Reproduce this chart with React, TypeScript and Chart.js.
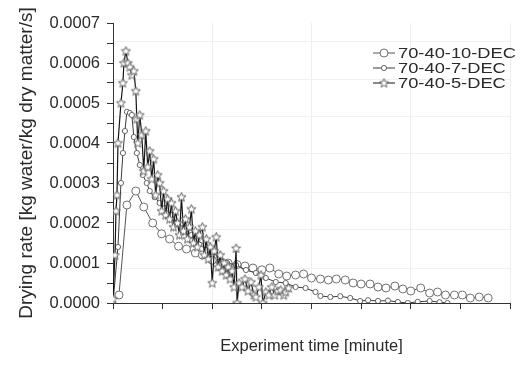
import React, { useEffect, useRef } from 'react';
import { Chart, registerables } from 'chart.js';

Chart.register(...registerables);

const SERIES_NAMES = ['70-40-10-DEC', '70-40-7-DEC', '70-40-5-DEC'];

const X_10 = [6, 14, 23, 31, 40, 49, 57, 66, 74, 83, 90, 100, 108, 116, 125, 133, 141, 150, 158, 167, 175, 184, 192, 200, 209, 217, 225, 234, 242, 250, 259, 267, 275, 284, 292, 300, 310, 319, 327, 335, 344, 352, 360, 369, 378];
const Y_10 = [0.00002, 0.000245, 0.00028, 0.00024, 0.0002, 0.000173, 0.00016, 0.000142, 0.000135, 0.000125, 0.00012, 0.000107, 0.000103, 0.0001, 0.000096, 0.0000925, 0.0000875, 0.000083, 0.0000875, 0.0000725, 0.0000675, 0.00007, 0.0000725, 0.0000625, 0.00006, 0.0000575, 0.00006, 0.0000575, 0.00005, 0.0000475, 0.0000475, 0.00004, 0.0000375, 0.0000425, 0.000035, 0.00003, 0.0000375, 0.000025, 0.0000275, 0.00002, 0.00002, 0.00002, 0.0000125, 0.000015, 0.0000125];

const X_7 = [0, 5, 8, 10, 12, 14, 17, 19, 21, 24, 27, 30, 34, 37, 42, 47, 52, 59, 65, 72, 79, 85, 92, 99, 107, 115, 124, 134, 144, 154, 164, 174, 184, 194, 204, 209, 219, 229, 239, 249, 257, 267, 277, 287, 297, 307, 319, 329, 337];
const Y_7 = [0, 0.00014, 0.0003, 0.000375, 0.00043, 0.000478, 0.000475, 0.00047, 0.000415, 0.000375, 0.000345, 0.00032, 0.0003, 0.00028, 0.000265, 0.00025, 0.000237, 0.00022, 0.0002, 0.000187, 0.00017, 0.000157, 0.000145, 0.000127, 0.000115, 0.0001, 0.000095, 0.0000825, 0.000075, 0.0000625, 0.0000525, 0.00005, 0.00004, 0.0000375, 0.0000275, 0.0000175, 0.000015, 0.000017, 0.0000125, 0.000005, 0.000007, 0.000005, 0.000006, 0.0000025, 0, 0.000003, 0.000005, 0.000002, 0];

const X_5 = [0, 2, 3, 4, 5, 8, 10, 11, 13, 15, 17, 19, 21, 23, 24, 25, 27, 29, 31, 33, 35, 37, 39, 41, 43, 45, 47, 49, 51, 53, 55, 57, 59, 61, 63, 65, 67, 69, 71, 73, 75, 77, 79, 81, 83, 85, 87, 90, 92, 94, 96, 98, 100, 102, 104, 106, 108, 110, 112, 114, 116, 118, 120, 122, 124, 125, 127, 130, 133, 136, 139, 142, 144, 147, 149, 151, 154, 157, 160, 163, 166, 169, 172, 174, 177];
const Y_5 = [0.00001, 0.00012, 0.00023, 0.00027, 0.0004, 0.0005, 0.00055, 0.0006, 0.00063, 0.0006, 0.00059, 0.00057, 0.00058, 0.00053, 0.00046, 0.0004, 0.00047, 0.00042, 0.00033, 0.00043, 0.00034, 0.00038, 0.00031, 0.00036, 0.00027, 0.00032, 0.0003, 0.00023, 0.00028, 0.00022, 0.00026, 0.00021, 0.00025, 0.00019, 0.00023, 0.0002, 0.00017, 0.000265, 0.00018, 0.00021, 0.00016, 0.00019, 0.000235, 0.00015, 0.00018, 0.00014, 0.00017, 0.00019, 0.00012, 0.00016, 0.00011, 0.00014, 0.00005, 0.00013, 0.000165, 0.00009, 0.00012, 0.00008, 0.0001, 0.00007, 0.00009, 0.00006, 0.00008, 0.00004, 0.000137, 0, 0.00005, 0.00004, 0.00006, 0.00003, 0.0000525, 0.00002, 0.000015, 0.00004, 0.00007, 0, 0.0000275, 0.00002, 0.00004, 0.00002, 0.00003, 0.0000325, 0.00002, 0.0000275, 0.0000375];

const X_MIN = 0;
const X_MAX = 400;
const X_STEP = 50;
const Y_MIN = 0;
const Y_MAX = 0.0007;
const Y_STEP = 0.00005;
const Y_LABEL_STEP = 0.0001;
const H_GRID_VALUES = [0.0000875, 0.000185, 0.0002775, 0.000375, 0.0004675, 0.00056, 0.0006525];

const FONT = "Arial, 'Liberation Sans', Helvetica, sans-serif";

function makeStar(): HTMLCanvasElement {
  const c = document.createElement('canvas');
  c.width = 11;
  c.height = 11;
  const g = c.getContext('2d')!;
  g.beginPath();
  for (let i = 0; i < 10; i++) {
    const r = i % 2 === 0 ? 4.8 : 2.1;
    const a = -Math.PI / 2 + (i * Math.PI) / 5;
    const px = 5.5 + r * Math.cos(a);
    const py = 5.8 + r * Math.sin(a);
    if (i === 0) g.moveTo(px, py);
    else g.lineTo(px, py);
  }
  g.closePath();
  g.fillStyle = '#ffffff';
  g.fill();
  g.strokeStyle = '#555555';
  g.lineWidth = 0.9;
  g.stroke();
  return c;
}

function toPoints(xs: number[], ys: number[]) {
  return xs.map((x, i) => ({ x, y: ys[i] }));
}

export default function App() {
  const ref = useRef<HTMLCanvasElement | null>(null);

  useEffect(() => {
    if (!ref.current) return;
    const star = makeStar();

    const legendPlugin = {
      id: 'lineMarkerLegend',
      afterDraw(chart: any) {
        const ctx = chart.ctx as CanvasRenderingContext2D;
        const { right, top } = chart.chartArea;
        const x0 = right - 137;
        [0, 1, 2].forEach((i) => {
          const ds = chart.data.datasets[i];
          const y = top + 30 + i * 15;
          ctx.save();
          ctx.strokeStyle = ds.borderColor;
          ctx.lineWidth = 1;
          ctx.beginPath();
          ctx.moveTo(x0, y);
          ctx.lineTo(x0 + 22, y);
          ctx.stroke();
          const mx = x0 + 11;
          if (ds.pointStyle === 'circle') {
            ctx.beginPath();
            ctx.arc(mx, y, ds.pointRadius, 0, Math.PI * 2);
            ctx.fillStyle = '#fff';
            ctx.fill();
            ctx.strokeStyle = ds.pointBorderColor;
            ctx.lineWidth = 1;
            ctx.stroke();
          } else {
            ctx.drawImage(ds.pointStyle, mx - 5.5, y - 5.5);
          }
          ctx.fillStyle = '#2a2a2a';
          ctx.font = `15px ${FONT}`;
          ctx.textBaseline = 'middle';
          ctx.translate(x0 + 25, y + 0.5);
          ctx.scale(1.22, 1);
          ctx.fillText(ds.label, 0, 0);
          ctx.restore();
        });
      },
    };

    const chart = new Chart(ref.current, {
      type: 'line',
      data: {
        datasets: [
          {
            label: SERIES_NAMES[0],
            data: toPoints(X_10, Y_10),
            borderColor: '#555555',
            borderWidth: 1,
            pointStyle: 'circle',
            pointRadius: 4,
            pointBackgroundColor: '#ffffff',
            pointBorderColor: '#707070',
            pointBorderWidth: 1,
            order: 3,
          },
          {
            label: SERIES_NAMES[1],
            data: toPoints(X_7, Y_7),
            borderColor: '#3a3a3a',
            borderWidth: 1,
            pointStyle: 'circle',
            pointRadius: 2.6,
            pointBackgroundColor: '#ffffff',
            pointBorderColor: '#666666',
            pointBorderWidth: 1,
            order: 2,
          },
          {
            label: SERIES_NAMES[2],
            data: toPoints(X_5, Y_5),
            borderColor: '#151515',
            borderWidth: 1.2,
            pointStyle: star as any,
            pointRadius: 5,
            order: 1,
          },
        ] as any,
      },
      options: {
        animation: false,
        responsive: false,
        maintainAspectRatio: false,
        layout: { padding: { top: 23, right: 14, left: 0, bottom: 0 } },
        plugins: { legend: { display: false }, tooltip: { enabled: false } },
        elements: { line: { tension: 0 } },
        scales: {
          x: {
            type: 'linear',
            min: X_MIN,
            max: X_MAX,
            border: { display: true, color: '#333333', width: 1 },
            grid: {
              color: (c: any) => (c.tick && c.tick.value % 100 === 0 && c.tick.value !== 0 ? '#eeeeee' : 'rgba(0,0,0,0)'),
              tickColor: '#333333',
              tickLength: 6,
              drawTicks: true,
            },
            ticks: { stepSize: X_STEP, display: false },
            title: {
              display: true,
              text: 'Experiment time [minute]',
              color: '#2a2a2a',
              font: { family: FONT, size: 16.5 },
              padding: { top: 0, bottom: 18 },
            },
            afterFit: (s: any) => {
              s.height = 71;
            },
          },
          y: {
            type: 'linear',
            min: Y_MIN,
            max: Y_MAX,
            border: { display: true, color: '#333333', width: 1 },
            grid: { drawOnChartArea: false, tickColor: '#333333', tickLength: 6 },
            ticks: {
              stepSize: Y_STEP,
              autoSkip: false,
              padding: 7,
              color: '#2a2a2a',
              font: { family: FONT, size: 16.5 },
              callback: (v: any) => {
                const n = Number(v);
                const k = Math.round(n / Y_LABEL_STEP);
                return Math.abs(n - k * Y_LABEL_STEP) < 1e-9 ? n.toFixed(4) : '';
              },
            },
            title: {
              display: true,
              text: 'Drying rate [kg water/kg dry matter/s]',
              color: '#2a2a2a',
              font: { family: FONT, size: 19 },
              padding: { top: 15, bottom: 0 },
            },
            afterFit: (s: any) => {
              s.width = 113;
            },
          },
          yGrid: {
            type: 'linear',
            position: 'right',
            min: Y_MIN,
            max: Y_MAX,
            border: { display: false },
            grid: { color: '#f0f0f0', drawTicks: false },
            ticks: { display: false },
            afterBuildTicks: (s: any) => {
              s.ticks = H_GRID_VALUES.map((v) => ({ value: v }));
            },
            afterFit: (s: any) => {
              s.width = 0;
            },
          },
        },
      } as any,
      plugins: [legendPlugin],
    });
    return () => chart.destroy();
  }, []);

  return (
    <div style={{ position: 'fixed', left: 0, top: 0, width: 524, height: 374, background: '#fff' }}>
      <canvas ref={ref} width={524} height={374} style={{ width: 524, height: 374, display: 'block' }} />
    </div>
  );
}
